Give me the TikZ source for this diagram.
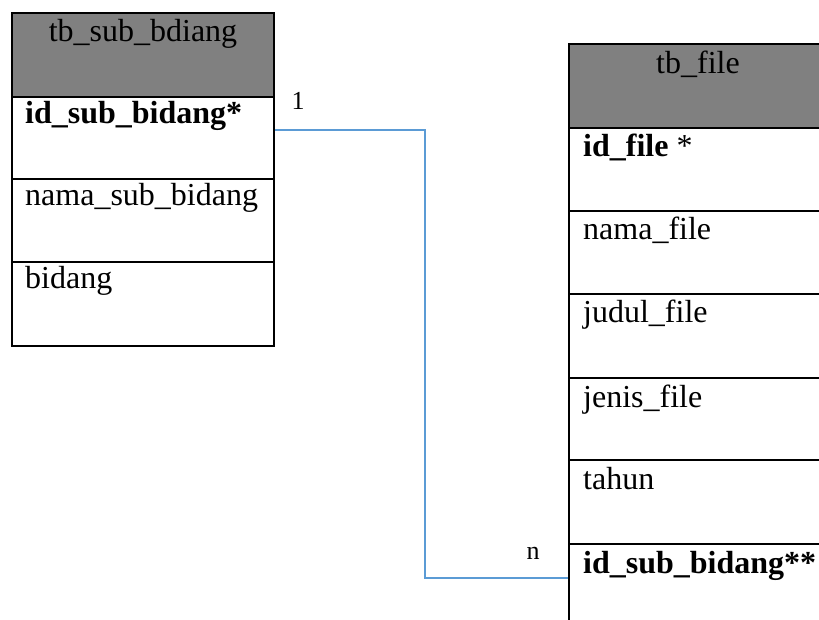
\documentclass[tikz,border=0pt]{standalone}
\usepackage{fontspec}
\setmainfont{Liberation Serif}
\usetikzlibrary{calc}
\definecolor{hdrgray}{HTML}{808080}
\definecolor{relblue}{HTML}{5B9BD5}
\begin{document}
\begin{tikzpicture}[x=1pt,y=-1pt,
  cell/.style={draw=black,line width=2pt,rectangle,inner sep=0pt,anchor=north west},
  hdr/.style={cell,fill=hdrgray},
  fieldtxt/.style={anchor=base west,inner sep=0pt,font=\fontsize{32}{38}\selectfont},
  hdrtxt/.style={anchor=base,inner sep=0pt,font=\fontsize{32}{38}\selectfont},
  rel/.style={draw=relblue,line width=1.4pt},
  card/.style={anchor=base,inner sep=0pt,font=\fontsize{26}{30}\selectfont}]
\useasboundingbox (0,0) rectangle (819,620);
\clip (0,0) rectangle (819,620);

% table tb_sub_bdiang
\node[hdr,minimum width=262pt,minimum height=84pt] (lh) at (11,12) {};
\node[cell,minimum width=262pt,minimum height=82pt] (l1) at (11,96) {};
\node[cell,minimum width=262pt,minimum height=83pt] (l2) at (11,178) {};
\node[cell,minimum width=262pt,minimum height=84pt] (l3) at (11,261) {};
\node[hdrtxt] (lht) at ($(lh.north)+(0,30)$) {tb\_sub\_bdiang};
\node[fieldtxt] (l1t) at ($(l1.north west)+(14,28)$) {\textbf{id\_sub\_bidang*}};
\node[fieldtxt] (l2t) at ($(l2.north west)+(14,28)$) {nama\_sub\_bidang};
\node[fieldtxt] (l3t) at ($(l3.north west)+(14,28)$) {bidang};

% table tb_file (runs past the right and bottom edges)
\node[hdr,minimum width=280pt,minimum height=84pt] (rh) at (568,43) {};
\node[cell,minimum width=280pt,minimum height=83pt] (r1) at (568,127) {};
\node[cell,minimum width=280pt,minimum height=83pt] (r2) at (568,210) {};
\node[cell,minimum width=280pt,minimum height=84pt] (r3) at (568,293) {};
\node[cell,minimum width=280pt,minimum height=82pt] (r4) at (568,377) {};
\node[cell,minimum width=280pt,minimum height=84pt] (r5) at (568,459) {};
\node[cell,minimum width=280pt,minimum height=120pt] (r6) at (568,543) {};
\node[hdrtxt] (rht) at ($(rh.north west)+(130,31)$) {tb\_file};
\node[fieldtxt] (r1t) at ($(r1.north west)+(15,30)$) {\textbf{id\_file} *};
\node[fieldtxt] (r2t) at ($(r2.north west)+(15,30)$) {nama\_file};
\node[fieldtxt] (r3t) at ($(r3.north west)+(15,30)$) {judul\_file};
\node[fieldtxt] (r4t) at ($(r4.north west)+(15,30)$) {jenis\_file};
\node[fieldtxt] (r5t) at ($(r5.north west)+(15,30)$) {tahun};
\node[fieldtxt] (r6t) at ($(r6.north west)+(15,30)$) {\textbf{id\_sub\_bidang**}};

% relation 1 : n
\coordinate (ra) at ($(l1.north east)+(0,34)$);
\coordinate (rb) at ($(r6.north west)+(0,35)$);
\draw[rel] (ra) -- ++(150,0) |- (rb);
\node[card] (c1) at (298,110) {1};
\node[card] (cn) at (533,559) {n};
\end{tikzpicture}
\end{document}
